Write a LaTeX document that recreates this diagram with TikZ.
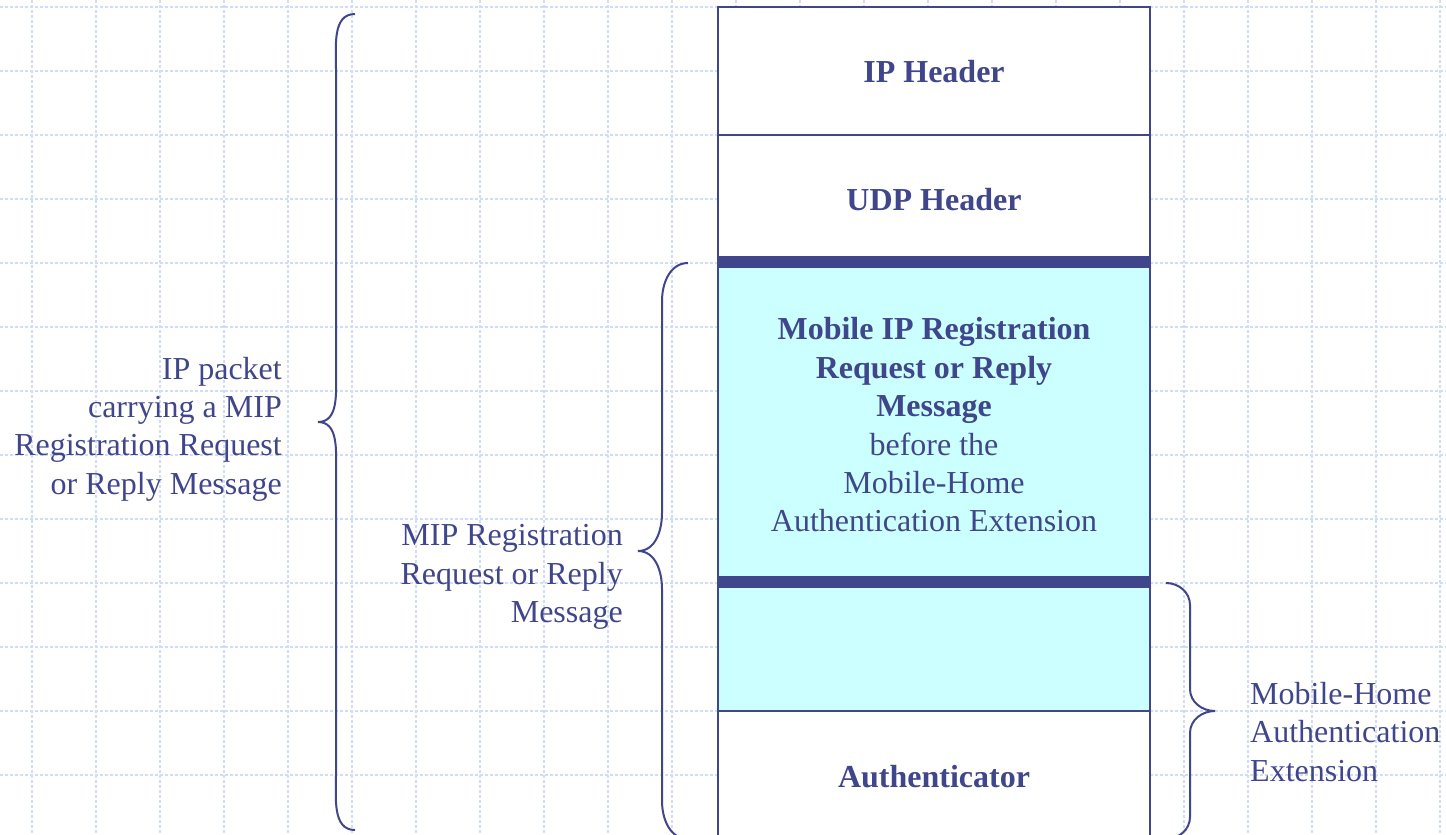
\documentclass[tikz,border=0pt]{standalone}
\usepackage{fontspec}
\setmainfont{Liberation Serif}
\definecolor{ink}{RGB}{64,70,140}
\definecolor{gridc}{RGB}{208,220,250}
\definecolor{cyanfill}{RGB}{204,255,255}
\begin{document}
\begin{tikzpicture}[x=1pt,y=1pt,
  every node/.style={inner sep=0pt, text=ink, font=\fontsize{32}{38.4}\selectfont},
  rowbox/.style={draw=ink, line width=2pt, minimum width=432pt, fill=white},
  cyanrow/.style={rowbox, fill=cyanfill},
  boldtext/.style={font=\fontsize{32}{38.4}\selectfont\bfseries},
  thickbar/.style={draw=ink, line width=12pt},
  bracestyle/.style={draw=ink, line width=2pt},
  gridline/.style={draw=gridc, line width=1.1pt, dash pattern=on 3pt off 2pt}]
\useasboundingbox (0,0) rectangle (1446,-835);
\fill[white] (0,0) rectangle (1446,-835);
% grid
\foreach \k in {0,...,22} \draw[gridline] (32+64*\k,0) -- (32+64*\k,-835);
\foreach \k in {0,...,12} \draw[gridline] (0,-7-64*\k) -- (1446,-7-64*\k);
% packet rows
\node[rowbox, minimum height=128pt] (ip) at (934,-71) {};
\node[boldtext] (iptext) at (934,-72) {IP Header};
\node[rowbox, minimum height=128pt] (udp) at (934,-199) {};
\node[boldtext] (udptext) at (934,-200) {UDP Header};
\node[cyanrow, minimum height=320pt] (msg) at (934,-423) {};
\node[align=center] (msgtext) at (934,-425)
  {\textbf{Mobile IP Registration}\\\textbf{Request or Reply}\\\textbf{Message}\\before the\\Mobile-Home\\Authentication Extension};
\node[cyanrow, minimum height=128pt] (ext) at (934,-647) {};
\node[rowbox, minimum height=130pt] (auth) at (934,-776) {};
\node[boldtext] (authtext) at (934,-777) {Authenticator};
\draw[thickbar] (msg.north west) -- (msg.north east);
\draw[thickbar] (ext.north west) -- (ext.north east);
% braces
\draw[bracestyle] (355,-14) to[out=180,in=90] (336,-69) -- (336,-372) to[out=-90,in=0] (318,-422)
  to[out=0,in=90] (336,-472) -- (336,-775) to[out=-90,in=180] (355,-830);
\draw[bracestyle] (688,-263) to[out=180,in=90] (662,-301) -- (662,-513) to[out=-90,in=0] (638,-551)
  to[out=0,in=90] (662,-589) -- (662,-801) to[out=-90,in=180] (688,-839);
\draw[bracestyle] (1166,-583) to[out=0,in=90] (1190,-605) -- (1190,-689) to[out=-90,in=180] (1215,-711)
  to[out=180,in=90] (1190,-733) -- (1190,-817) to[out=-90,in=0] (1166,-839);
% labels
\node[align=right, anchor=east] (pkt) at (282,-429) {IP packet\\carrying a MIP\\Registration Request\\or Reply Message};
\node[align=right, anchor=east] (mip) at (623,-577) {MIP Registration\\Request or Reply\\Message};
\node[align=left, anchor=west] (mh) at (1250,-732) {Mobile-Home\\Authentication\\Extension};
\end{tikzpicture}
\end{document}
